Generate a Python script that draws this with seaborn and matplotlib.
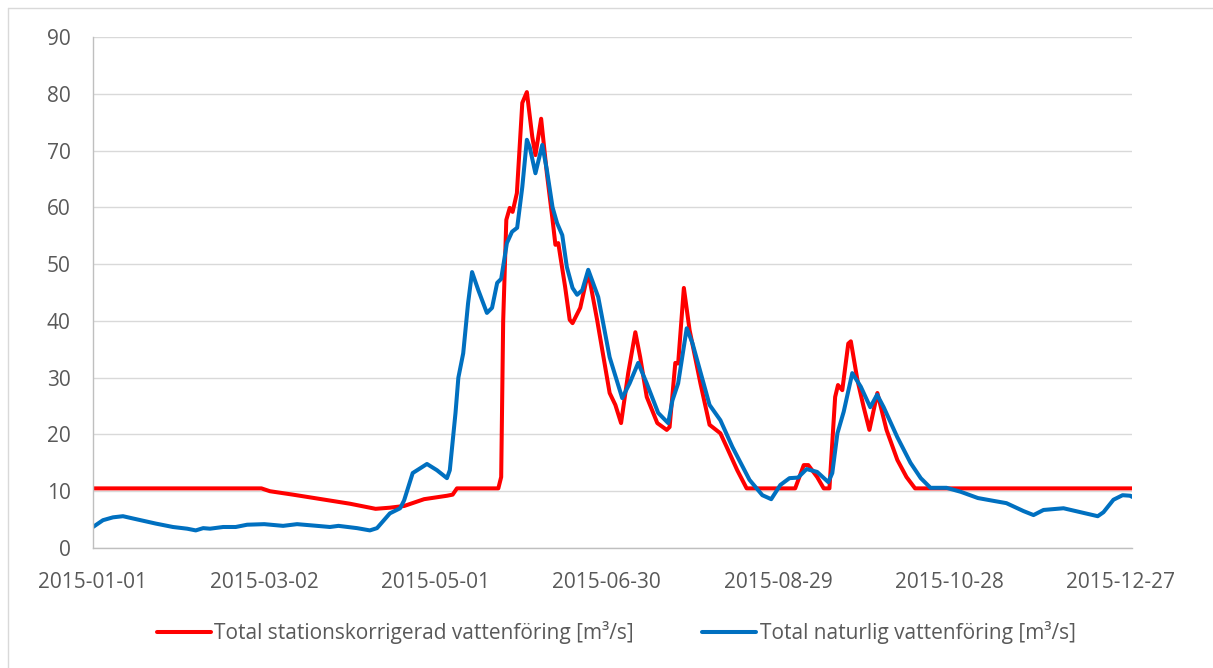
import numpy as np
import pandas as pd
import matplotlib
matplotlib.use("Agg")
import matplotlib.pyplot as plt
import matplotlib.dates as mdates
from matplotlib.lines import Line2D
import seaborn as sns

# day offsets from 2015-01-01 and flow values [m3/s]
red_days = [0, 59, 62, 70, 80, 90, 99, 104, 109, 116, 124, 126, 127.5, 142, 143, 143.7,
            144.8, 146, 147, 148.5, 150.4, 152, 153.9, 155, 157, 159, 161, 162, 163, 165.4,
            167, 168, 170.7, 173.5, 176.6, 181, 183, 185, 187.5, 190, 191.7, 194, 197.7, 201,
            202, 204, 205, 207, 209, 212.8, 216, 219.8, 222, 225.7, 229, 246, 249, 250.6,
            253.7, 256, 258, 260, 261, 262.5, 264.6, 265.5, 267.8, 270, 272, 274.8, 278,
            281.8, 285, 288, 364]
red_vals = [10.5, 10.5, 10.0, 9.4, 8.6, 7.8, 6.9, 7.1, 7.4, 8.6, 9.2, 9.4, 10.5, 10.5, 12.5, 40,
            57.8, 59.9, 59.2, 62.5, 78.4, 80.3, 72.4, 69.2, 75.6, 66, 57.8, 53.4, 53.7, 46,
            40.2, 39.6, 42.3, 48.6, 40.2, 27.3, 25.2, 22, 30.8, 38, 33.6, 26.6, 22, 20.8,
            21.3, 32.6, 32.5, 45.8, 38.4, 29, 21.7, 20.2, 17.8, 13.7, 10.5, 10.5, 14.6, 14.6,
            12.5, 10.5, 10.5, 26.6, 28.7, 27.8, 36, 36.4, 29.6, 24.8, 20.8, 27.3, 20.8,
            15.5, 12.5, 10.5, 10.5]

blue_days = [0, 3.5, 7, 10.5, 14, 22, 28, 33, 36, 38.6, 41, 45.6, 50, 54, 60, 66.6, 71.5,
             78.5, 83, 86, 92.5, 97, 99.5, 104, 107.6, 109, 112, 117, 120.5, 124, 125, 127,
             128, 129.7, 131.4, 132.8, 135, 138, 139.8, 141.6, 143, 145, 146.8, 148.6, 150.4,
             152, 153, 155, 157.4, 159, 161, 162.6, 164.4, 166, 168, 169.6, 171.4, 173.5,
             177, 181, 185.4, 188, 191, 194, 198, 201.5, 203, 205, 208, 210, 216, 219.8, 224,
             230, 234.5, 237.6, 240.8, 244, 247, 250, 253.7, 257.6, 259, 260.8, 263, 266,
             269, 272.3, 274.7, 277, 281.8, 286.4, 290, 293.4, 299, 304, 310, 315.5, 320,
             326, 329.5, 333, 340, 346, 352, 354, 357.5, 360.7, 363.5, 364]
blue_vals = [3.7, 4.9, 5.4, 5.6, 5.2, 4.3, 3.7, 3.4, 3.1, 3.5, 3.4, 3.7, 3.7, 4.1, 4.2, 3.9, 4.2,
             3.9, 3.7, 3.9, 3.5, 3.1, 3.5, 6.1, 7.0, 8.4, 13.2, 14.8, 13.7, 12.3, 13.7, 23.8,
             30, 34.3, 43.1, 48.6, 45.4, 41.4, 42.3, 46.7, 47.4, 53.7, 55.7, 56.4, 63.6,
             71.9, 70.6, 66, 71, 66.6, 60, 57.2, 55.1, 49.5, 45.8, 44.6, 45.4, 49,
             44.2, 33.6, 26.4, 29, 32.6, 29, 23.8, 22, 26, 29, 38.7, 36.1, 25.2, 22.5, 17.8,
             12, 9.3, 8.6, 11.1, 12.3, 12.4, 13.9, 13.4, 11.6, 13.2, 20.2, 24, 30.8,
             28.4, 24.8, 27, 24.8, 19.5, 15, 12.3, 10.6, 10.6, 9.9, 8.8, 8.3, 7.9,
             6.5, 5.8, 6.7, 7.0, 6.3, 5.6, 6.3, 8.5, 9.3, 9.2, 9.0]

red_label = "Total stationskorrigerad vattenföring [m³/s]"
blue_label = "Total naturlig vattenföring [m³/s]"

start = pd.Timestamp("2015-01-01")
df_red = pd.DataFrame({"date": start + pd.to_timedelta(red_days, unit="D"), "flow": red_vals})
df_blue = pd.DataFrame({"date": start + pd.to_timedelta(blue_days, unit="D"), "flow": blue_vals})

sns.set_style("white")
plt.rcParams["font.family"] = ["Open Sans", "DejaVu Sans"]

fig = plt.figure(figsize=(12.13, 6.68), dpi=100)
ax = fig.add_axes([93 / 1213, 1 - 548 / 668, (1132 - 93) / 1213, (548 - 37) / 668])

line_kw = dict(lw=2.9, solid_joinstyle="round", solid_capstyle="round")
sns.lineplot(data=df_red, x="date", y="flow", ax=ax, color="#FF0000", label=red_label, **line_kw)
sns.lineplot(data=df_blue, x="date", y="flow", ax=ax, color="#0070C0", label=blue_label, **line_kw)

ax.set_ylim(0, 90)
ax.set_yticks(np.arange(0, 91, 10))
ax.set_xlim(start, start + pd.Timedelta(days=364))
ticks = [start + pd.Timedelta(days=60 * k) for k in range(7)]
ax.set_xticks(ticks)
ax.xaxis.set_major_formatter(mdates.DateFormatter("%Y-%m-%d"))
ax.set_xlabel("")
ax.set_ylabel("")

ax.grid(axis="y", color="#d9d9d9", lw=1)
ax.grid(axis="x", visible=False)
ax.set_axisbelow(True)
for side in ["top", "right"]:
    ax.spines[side].set_visible(False)
for side in ["left", "bottom"]:
    ax.spines[side].set_color("#bfbfbf")
    ax.spines[side].set_linewidth(1)
ax.tick_params(axis="both", length=0, labelsize=15, labelcolor="#595959")
ax.tick_params(axis="y", pad=16)
ax.tick_params(axis="x", pad=17)

ax.legend(loc="center", bbox_to_anchor=(616 / 1213, 1 - 633 / 668), bbox_transform=fig.transFigure,
          ncol=2, frameon=False, fontsize=15, handlelength=2.6, handletextpad=0.15,
          columnspacing=3.3, labelcolor="#595959")

# chart area border (only top and left visible in the crop)
fig.add_artist(Line2D([8 / 1213, 1], [1 - 8 / 668, 1 - 8 / 668], color="#d9d9d9", lw=1))
fig.add_artist(Line2D([8 / 1213, 8 / 1213], [0, 1 - 8 / 668], color="#d9d9d9", lw=1))

fig.savefig("out.png", dpi=100)
